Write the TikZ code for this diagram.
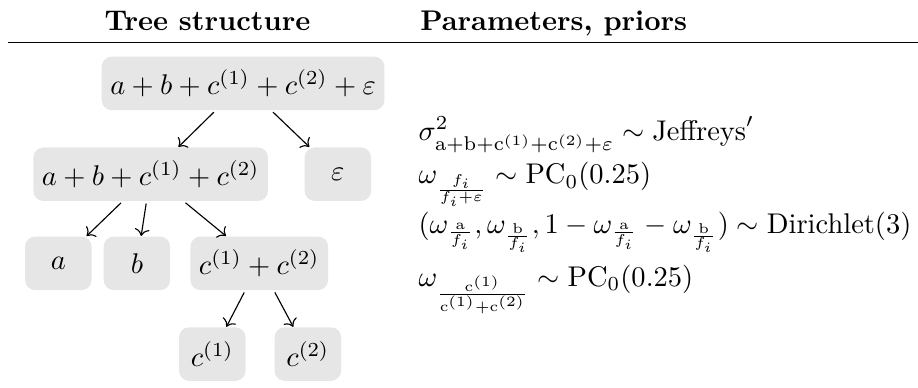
\documentclass[tikz,border=0pt]{standalone}
\definecolor{boxgray}{RGB}{230, 230, 230}
\usepackage{amsmath, amssymb}
\usetikzlibrary{arrows.meta, positioning}

\begin{document}
\begin{tikzpicture}[
  tbox/.style={fill=boxgray, rounded corners=3.5pt, minimum width=0.82cm, minimum height=0.66cm, inner xsep=3pt},
  treearrow/.style={->, shorten <=0.7pt},
  prior/.style={anchor=base west, inner sep=0pt}
]
  \useasboundingbox (0, 0) rectangle (11.33, -4.78);
  % headings and rule
  \node[anchor=base] (headtree) at (2.56, -0.38) {\textbf{Tree structure}};
  \node[anchor=base west, inner sep=0pt] (headprior) at (5.18, -0.38) {\textbf{Parameters, priors}};
  \draw[line width=0.4pt] (0.10, -0.52) -- (11.33, -0.52);
  % tree
  \node[tbox] (top) at (3.00, -1.03) {$a+b+c^{(1)}+c^{(2)}+\varepsilon$};
  \node[tbox] (sum) at (1.86, -2.15) {$a+b+c^{(1)}+c^{(2)}$};
  \node[tbox] (eps) at (4.17, -2.15) {$\varepsilon$};
  \node[tbox] (a) at (0.72, -3.25) {$a$};
  \node[tbox] (b) at (1.69, -3.25) {$b$};
  \node[tbox] (c12) at (3.20, -3.25) {$c^{(1)}+c^{(2)}$};
  \node[tbox] (c1) at (2.62, -4.37) {$c^{(1)}$};
  \node[tbox] (c2) at (3.80, -4.37) {$c^{(2)}$};
  \draw[treearrow] (top) -- (sum);
  \draw[treearrow] (top) -- (eps);
  \draw[treearrow] (sum) -- (a);
  \draw[treearrow] (sum) -- (b);
  \draw[treearrow] (sum) -- (c12);
  \draw[treearrow] (c12) -- (c1);
  \draw[treearrow] (c12) -- (c2);
  % priors
  \node[prior] (psigma) at (5.16, -1.73) {$\sigma^2_{\mathrm{a+b+c^{(1)}+c^{(2)}+}\varepsilon} \sim \text{Jeffreys}'$};
  \node[prior] (pfi) at (5.16, -2.27) {$\omega_{\frac{f_i}{f_i+\varepsilon}} \sim \text{PC}_0(0.25)$};
  \node[prior] (pdir) at (5.16, -2.88) {$(\omega_{\frac{\mathrm{a}}{f_i}}, \omega_{\frac{\mathrm{b}}{f_i}}, 1-\omega_{\frac{\mathrm{a}}{f_i}}-\omega_{\frac{\mathrm{b}}{f_i}}) \sim \text{Dirichlet}(3)$};
  \node[prior] (pc) at (5.16, -3.53) {$\omega_{\frac{\mathrm{c}^{(1)}}{\mathrm{c}^{(1)}+\mathrm{c}^{(2)}}} \sim \text{PC}_0(0.25)$};
\end{tikzpicture}
\end{document}
